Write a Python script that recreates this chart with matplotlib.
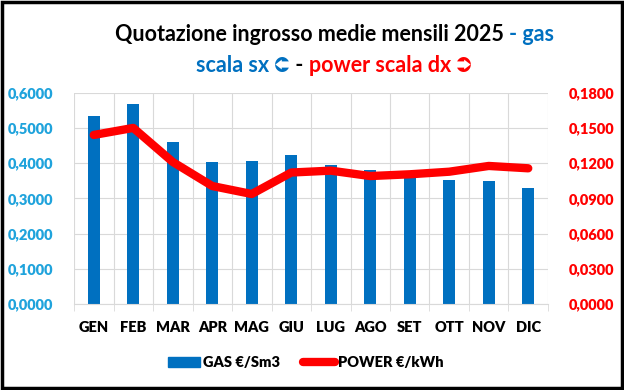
import numpy as np
import matplotlib.pyplot as plt
from matplotlib.patches import Rectangle
from matplotlib.lines import Line2D
from matplotlib.ticker import FuncFormatter

months = ['GEN', 'FEB', 'MAR', 'APR', 'MAG', 'GIU', 'LUG', 'AGO', 'SET', 'OTT', 'NOV', 'DIC']
gas = [0.534, 0.568, 0.460, 0.403, 0.406, 0.423, 0.394, 0.380, 0.364, 0.352, 0.350, 0.329]
power = [0.144, 0.150, 0.121, 0.1005, 0.0937, 0.112, 0.1136, 0.109, 0.1105, 0.1127, 0.1176, 0.1156]

BLUE = '#0070C0'
CYAN = '#1FA3DC'
RED = '#FF0000'
plt.rcParams['font.family'] = ['Lato', 'DejaVu Sans']

fig = plt.figure(figsize=(6.24, 3.9), dpi=100)
ax = fig.add_axes([0.1186, 0.2205, 0.7596, 0.5418])
ax2 = ax.twinx()

x = np.arange(len(months))
ax.bar(x, gas, width=0.3, color=BLUE, zorder=2)
ax2.plot(x, power, color=RED, lw=6, solid_joinstyle='round', solid_capstyle='round', zorder=3)

ax.set_xlim(-0.5, 11.5)
ax.set_ylim(0, 0.6)
ax2.set_ylim(0, 0.18)
ax.set_yticks(np.arange(0, 0.61, 0.1))
ax2.set_yticks(np.arange(0, 0.181, 0.03))
fmt = FuncFormatter(lambda v, p: f'{v:.4f}'.replace('.', ','))
ax.yaxis.set_major_formatter(fmt)
ax2.yaxis.set_major_formatter(fmt)

ax.set_xticks(x)
ax.set_xticklabels(months, fontsize=10.5, fontweight='heavy')
ax.set_xticks(np.arange(-0.5, 12, 1), minor=True)
ax.tick_params(axis='x', which='major', length=0, pad=12)
ax.tick_params(axis='x', which='minor', length=5, color='#D9D9D9')
ax.tick_params(axis='y', length=0, labelsize=10.5, labelcolor=CYAN, pad=15)
ax2.tick_params(axis='y', length=0, labelsize=10.5, labelcolor=RED, pad=15)
for lab in ax.get_yticklabels() + ax2.get_yticklabels():
    lab.set_fontweight('heavy')

ax.grid(axis='y', color='#D9D9D9', lw=0.8, zorder=0)
ax.grid(axis='x', which='minor', color='#D9D9D9', lw=0.8, zorder=0)
ax.set_axisbelow(True)
for a in (ax, ax2):
    for s in a.spines.values():
        s.set_visible(False)
ax.spines['bottom'].set_visible(True)
ax.spines['bottom'].set_color('#D9D9D9')

# title: coloured pieces placed one after another
renderer = fig.canvas.get_renderer()
SYM = ['Noto Sans Symbols 2', 'DejaVu Sans']


def write_line(pieces, y, size=15.5):
    texts = []
    for s, c, fam in pieces:
        t = fig.text(0, y, s, fontsize=size, fontweight='bold', color=c,
                     ha='left', va='center', family=fam)
        texts.append(t)
    widths = [t.get_window_extent(renderer).width for t in texts]
    x0 = (fig.bbox.width * 0.5355 - sum(widths) / 2)
    for t, w in zip(texts, widths):
        t.set_x(x0 / fig.bbox.width)
        x0 += w


write_line([('Quotazione ingrosso medie mensili 2025 ', 'black', ['Lato']),
            ('- gas', BLUE, ['Lato'])], 0.912)
write_line([('scala sx ', BLUE, ['Lato']), ('\u2B88', BLUE, SYM),
            (' - ', 'black', ['Lato']),
            ('power scala dx ', RED, ['Lato']), ('\u2B8A', RED, SYM)], 0.832)

handles = [Rectangle((0, 0), 1, 1, color=BLUE),
           Line2D([0], [0], color=RED, lw=6, solid_capstyle='round')]
fig.legend(handles, ['GAS €/Sm3', 'POWER €/kWh'], loc='center', bbox_to_anchor=(0.49, 0.07),
           ncol=2, frameon=False, prop={'size': 10.5, 'weight': 'heavy'},
           handlelength=2.2, handletextpad=0.2, columnspacing=1.6)

fig.patches.append(Rectangle((0.004, 0.006), 0.992, 0.988, transform=fig.transFigure,
                             fill=False, edgecolor='black', lw=2.5))

fig.savefig('out.png', dpi=100)
